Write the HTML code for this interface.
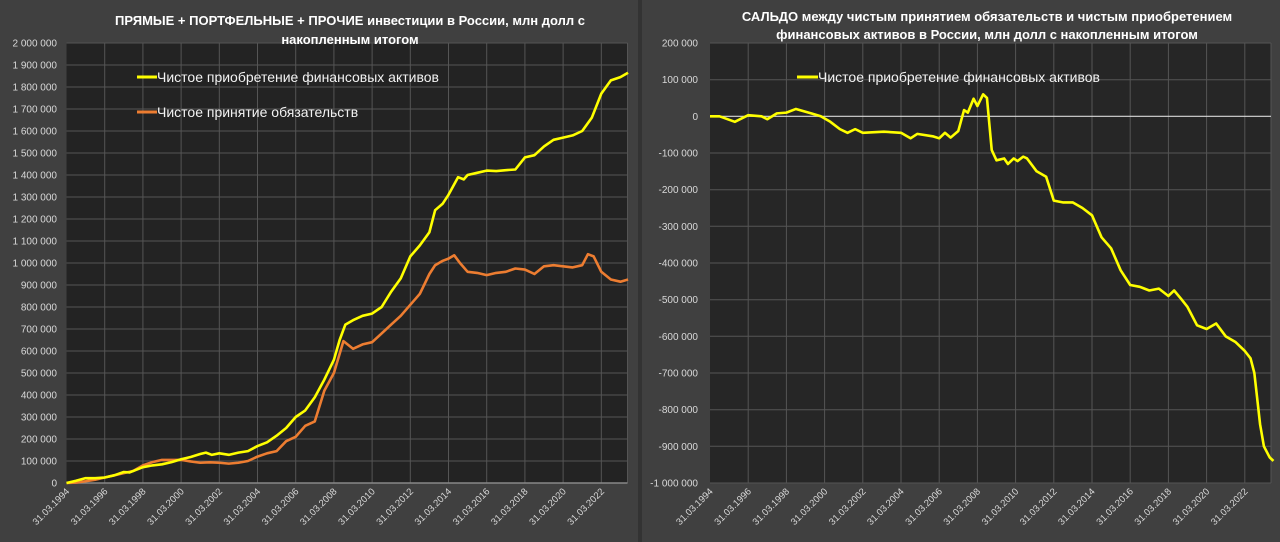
<!DOCTYPE html>
<html><head><meta charset="utf-8"><style>
html,body{margin:0;padding:0;background:#404040;width:1280px;height:542px;overflow:hidden}
svg{display:block}
text{font-family:"Liberation Sans",sans-serif;fill:#d9d9d9}
.yl{font-size:10px;text-anchor:end}
.xl{font-size:9.5px;text-anchor:end}
.t{font-size:13px;font-weight:bold;fill:#fff;text-anchor:middle}
.lg{font-size:14px;fill:#f2f2f2}
</style></head><body>
<svg width="1280" height="542" viewBox="0 0 1280 542">
<rect x="0" y="0" width="1280" height="542" fill="#404040"/>
<rect x="638" y="0" width="4" height="542" fill="#333"/>
<!-- LEFT -->
<rect x="66.5" y="43" width="561" height="440" fill="#232323"/>
<g stroke="#555" stroke-width="1">
<path d="M66.5 43H627.5M66.5 65H627.5M66.5 87H627.5M66.5 109H627.5M66.5 131H627.5M66.5 153H627.5M66.5 175H627.5M66.5 197H627.5M66.5 219H627.5M66.5 241H627.5M66.5 263H627.5M66.5 285H627.5M66.5 307H627.5M66.5 329H627.5M66.5 351H627.5M66.5 373H627.5M66.5 395H627.5M66.5 417H627.5M66.5 439H627.5M66.5 461H627.5"/>
<path d="M104.7 43V483M142.9 43V483M181.1 43V483M219.3 43V483M257.5 43V483M295.7 43V483M333.9 43V483M372.1 43V483M410.3 43V483M448.5 43V483M486.7 43V483M524.9 43V483M563.1 43V483M601.3 43V483M627.5 43V483"/>
</g>
<path d="M66.5 483H627.5" stroke="#888" stroke-width="1.5"/>
<g class="yl">
<text x="57" y="46.5" class="yl">2 000 000</text><text x="57" y="68.5" class="yl">1 900 000</text><text x="57" y="90.5" class="yl">1 800 000</text><text x="57" y="112.5" class="yl">1 700 000</text><text x="57" y="134.5" class="yl">1 600 000</text><text x="57" y="156.5" class="yl">1 500 000</text><text x="57" y="178.5" class="yl">1 400 000</text><text x="57" y="200.5" class="yl">1 300 000</text><text x="57" y="222.5" class="yl">1 200 000</text><text x="57" y="244.5" class="yl">1 100 000</text><text x="57" y="266.5" class="yl">1 000 000</text><text x="57" y="288.5" class="yl">900 000</text><text x="57" y="310.5" class="yl">800 000</text><text x="57" y="332.5" class="yl">700 000</text><text x="57" y="354.5" class="yl">600 000</text><text x="57" y="376.5" class="yl">500 000</text><text x="57" y="398.5" class="yl">400 000</text><text x="57" y="420.5" class="yl">300 000</text><text x="57" y="442.5" class="yl">200 000</text><text x="57" y="464.5" class="yl">100 000</text><text x="57" y="486.5" class="yl">0</text>
</g>
<text class="xl" transform="translate(70,492) rotate(-45)">31.03.1994</text>
<text class="xl" transform="translate(108.2,492) rotate(-45)">31.03.1996</text>
<text class="xl" transform="translate(146.4,492) rotate(-45)">31.03.1998</text>
<text class="xl" transform="translate(184.6,492) rotate(-45)">31.03.2000</text>
<text class="xl" transform="translate(222.8,492) rotate(-45)">31.03.2002</text>
<text class="xl" transform="translate(261,492) rotate(-45)">31.03.2004</text>
<text class="xl" transform="translate(299.2,492) rotate(-45)">31.03.2006</text>
<text class="xl" transform="translate(337.4,492) rotate(-45)">31.03.2008</text>
<text class="xl" transform="translate(375.6,492) rotate(-45)">31.03.2010</text>
<text class="xl" transform="translate(413.8,492) rotate(-45)">31.03.2012</text>
<text class="xl" transform="translate(452,492) rotate(-45)">31.03.2014</text>
<text class="xl" transform="translate(490.2,492) rotate(-45)">31.03.2016</text>
<text class="xl" transform="translate(528.4,492) rotate(-45)">31.03.2018</text>
<text class="xl" transform="translate(566.6,492) rotate(-45)">31.03.2020</text>
<text class="xl" transform="translate(604.8,492) rotate(-45)">31.03.2022</text>
<text class="t" x="350" y="25">ПРЯМЫЕ + ПОРТФЕЛЬНЫЕ + ПРОЧИЕ инвестиции в России, млн долл с</text>
<text class="t" x="350" y="44">накопленным итогом</text>
<g transform="translate(66.5,483) scale(19.1,-0.22)" fill="none" stroke-linejoin="round">
<polyline vector-effect="non-scaling-stroke" stroke="#ed7d31" stroke-width="2.6" points="0,0 0.5,2 1,8 1.5,15 2,25 2.5,35 3,45 3.5,55 4,80 4.5,95 5,105 5.5,105 6,105 6.5,98 7,92 7.5,94 8,92 8.5,88 9,92 9.5,100 10,120 10.5,135 11,145 11.5,190 12,210 12.5,260 13,280 13.5,420 14,500 14.5,645 15,610 15.5,630 16,640 16.5,680 17,720 17.5,760 18,810 18.5,860 19,950 19.3,990 19.7,1010 20,1020 20.3,1035 20.6,1000 21,960 21.5,955 22,945 22.5,955 23,960 23.5,975 24,970 24.5,950 25,985 25.5,990 26,985 26.5,980 27,990 27.3,1040 27.6,1030 28,960 28.5,925 29,915 29.4,925"/>
<polyline vector-effect="non-scaling-stroke" stroke="#ffff00" stroke-width="2.6" points="0,0 0.5,10 1,22 1.5,22 2,25 2.5,35 3,50 3.3,48 3.5,55 4,72 4.5,80 5,85 5.5,95 6,108 6.5,118 7,132 7.3,138 7.6,128 8,135 8.5,128 9,138 9.5,145 10,168 10.5,185 11,215 11.5,250 12,300 12.5,330 13,390 13.5,470 14,560 14.3,650 14.6,720 15,740 15.5,760 16,770 16.5,800 17,870 17.5,930 18,1030 18.5,1080 19,1140 19.3,1240 19.7,1270 20,1310 20.5,1390 20.8,1380 21,1400 21.5,1410 22,1420 22.5,1418 23,1422 23.5,1425 24,1480 24.5,1490 25,1530 25.5,1560 26,1570 26.5,1580 27,1600 27.5,1660 28,1770 28.5,1830 29,1845 29.4,1865"/>
</g>
<path d="M137 77H157" stroke="#ffff00" stroke-width="3"/>
<text class="lg" x="157" y="82">Чистое приобретение финансовых активов</text>
<path d="M137 112H157" stroke="#ed7d31" stroke-width="3"/>
<text class="lg" x="157" y="117">Чистое принятие обязательств</text>
<!-- RIGHT -->
<rect x="710" y="43" width="561" height="440" fill="#262626"/>
<g stroke="#555" stroke-width="1">
<path d="M710 43H1271M710 79.7H1271M710 153H1271M710 189.7H1271M710 226.3H1271M710 263H1271M710 299.7H1271M710 336.3H1271M710 373H1271M710 409.7H1271M710 446.3H1271M710 483H1271"/>
<path d="M748.2 43V483M786.4 43V483M824.6 43V483M862.8 43V483M901 43V483M939.2 43V483M977.4 43V483M1015.6 43V483M1053.8 43V483M1092 43V483M1130.2 43V483M1168.4 43V483M1206.6 43V483M1244.8 43V483M1271 43V483"/>
</g>
<path d="M710 116.3H1271" stroke="#d9d9d9" stroke-width="1.2"/>
<text x="698" y="46.5" class="yl">200 000</text><text x="698" y="83.2" class="yl">100 000</text><text x="698" y="119.8" class="yl">0</text><text x="698" y="156.5" class="yl">-100 000</text><text x="698" y="193.2" class="yl">-200 000</text><text x="698" y="229.8" class="yl">-300 000</text><text x="698" y="266.5" class="yl">-400 000</text><text x="698" y="303.2" class="yl">-500 000</text><text x="698" y="339.8" class="yl">-600 000</text><text x="698" y="376.5" class="yl">-700 000</text><text x="698" y="413.2" class="yl">-800 000</text><text x="698" y="449.8" class="yl">-900 000</text><text x="698" y="486.5" class="yl">-1 000 000</text>
<text class="xl" transform="translate(713.5,492) rotate(-45)">31.03.1994</text>
<text class="xl" transform="translate(751.7,492) rotate(-45)">31.03.1996</text>
<text class="xl" transform="translate(789.9,492) rotate(-45)">31.03.1998</text>
<text class="xl" transform="translate(828.1,492) rotate(-45)">31.03.2000</text>
<text class="xl" transform="translate(866.3,492) rotate(-45)">31.03.2002</text>
<text class="xl" transform="translate(904.5,492) rotate(-45)">31.03.2004</text>
<text class="xl" transform="translate(942.7,492) rotate(-45)">31.03.2006</text>
<text class="xl" transform="translate(980.9,492) rotate(-45)">31.03.2008</text>
<text class="xl" transform="translate(1019.1,492) rotate(-45)">31.03.2010</text>
<text class="xl" transform="translate(1057.3,492) rotate(-45)">31.03.2012</text>
<text class="xl" transform="translate(1095.5,492) rotate(-45)">31.03.2014</text>
<text class="xl" transform="translate(1133.7,492) rotate(-45)">31.03.2016</text>
<text class="xl" transform="translate(1171.9,492) rotate(-45)">31.03.2018</text>
<text class="xl" transform="translate(1210.1,492) rotate(-45)">31.03.2020</text>
<text class="xl" transform="translate(1248.3,492) rotate(-45)">31.03.2022</text>
<text class="t" x="987" y="21">САЛЬДО между чистым принятием обязательств и чистым приобретением</text>
<text class="t" x="987" y="39">финансовых активов в России, млн долл с накопленным итогом</text>
<g transform="translate(710,116.3) scale(19.1,-0.3667)" fill="none" stroke-linejoin="round">
<polyline vector-effect="non-scaling-stroke" stroke="#ffff00" stroke-width="2.6" points="0,0 0.5,0 1.3,-15 2,3 2.7,0 3,-8 3.5,8 4,10 4.5,20 5.3,8 5.8,0 6.3,-15 6.8,-35 7.2,-45 7.6,-35 8,-45 9.1,-42 10,-45 10.5,-60 10.85,-48 11.7,-55 12,-60 12.3,-45 12.6,-58 13,-40 13.3,17 13.5,10 13.8,48 14,28 14.3,60 14.5,50 14.75,-92 15,-120 15.4,-115 15.6,-130 15.9,-115 16.1,-122 16.4,-110 16.6,-115 17.1,-150 17.6,-165 18,-230 18.5,-235 19,-235 19.5,-250 20,-270 20.5,-330 21,-360 21.5,-420 22,-460 22.5,-465 23,-475 23.5,-470 24,-490 24.3,-475 24.7,-500 25,-520 25.5,-570 26,-580 26.5,-565 27,-600 27.5,-615 28,-640 28.3,-660 28.5,-700 28.8,-840 29,-900 29.3,-930 29.5,-940"/>
</g>
<path d="M797 77H818" stroke="#ffff00" stroke-width="3"/>
<text class="lg" x="818" y="82">Чистое приобретение финансовых активов</text>
</svg>
</body></html>
